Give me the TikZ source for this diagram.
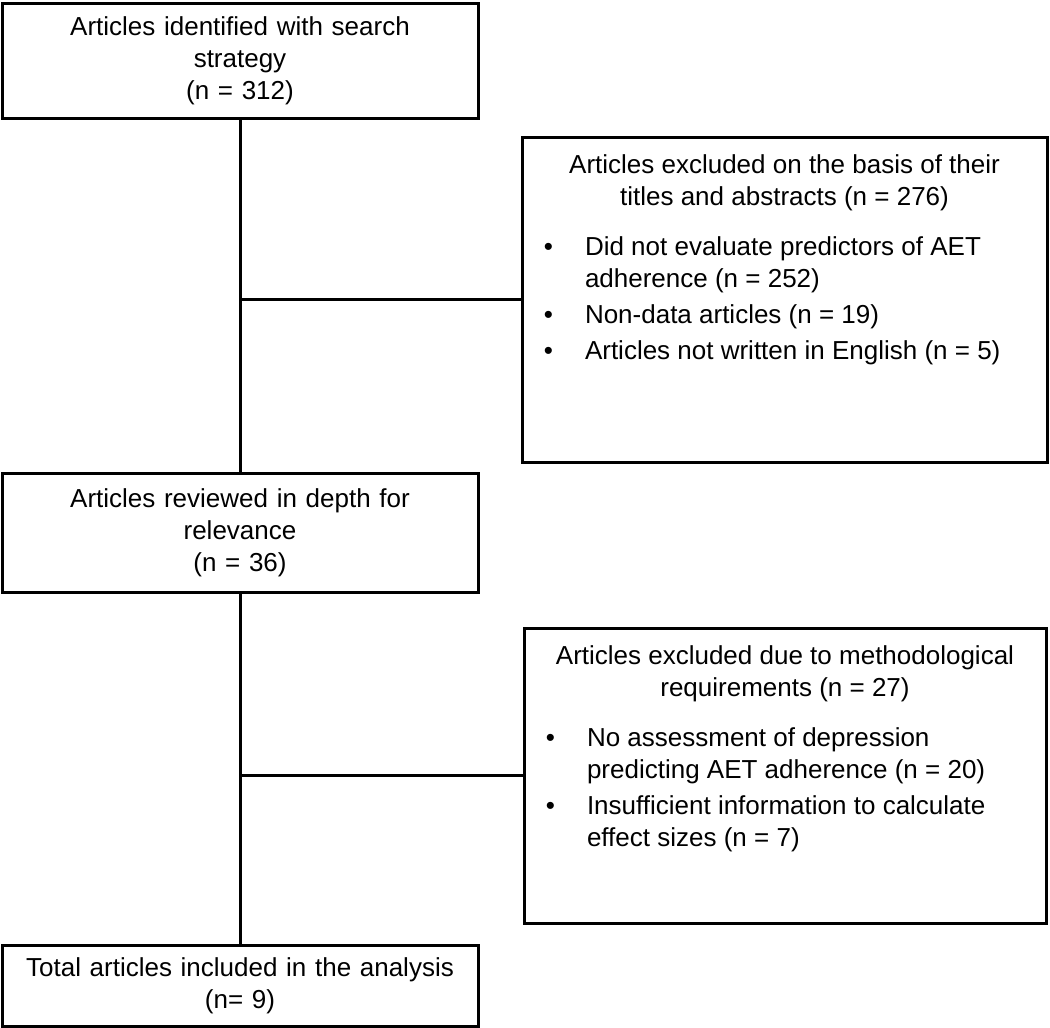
\documentclass[tikz,border=0pt]{standalone}
\usepackage{fontspec}
\setmainfont{Liberation Sans}
\usetikzlibrary{positioning, calc}

% bullet list used inside the exclusion boxes
\newenvironment{reasons}{\begin{list}{\textbullet}{%
    \setlength\leftmargin{31.5pt}\setlength\labelwidth{12pt}%
    \setlength\labelsep{16pt}\setlength\itemsep{2pt}\setlength\parsep{0pt}%
    \setlength\topsep{9pt}\setlength\partopsep{0pt}\setlength\rightmargin{6pt}}}%
  {\end{list}}

\begin{document}
\begin{tikzpicture}[x=0.5pt, y=-0.5pt,
    stage/.style={rectangle, draw=black, line width=1.5pt, inner sep=0pt,
                  text width=238pt, align=center, minimum height=#1,
                  font=\fontsize{13pt}{16pt}\selectfont},
    excl/.style={rectangle, draw=black, line width=1.5pt, inner sep=0pt,
                 font=\fontsize{13pt}{16pt}\selectfont},
    link/.style={draw=black, line width=1.5pt}
]
\useasboundingbox (0,0) rectangle (1050,1028);
% main flow on the left
\node[stage=57.5pt] (ident) at (240,60.5) {Articles identified with search\\strategy\\(n = 312)};
\node[stage=59.5pt] (review) at (240,532.5) {Articles reviewed in depth for\\relevance\\(n = 36)};
\node[stage=40.5pt] (incl) at (240,985.5) {Total articles included in the analysis\\(n= 9)};
% exclusion boxes on the right
\node[excl] (excl1) at (784.5,299.5) {\parbox[c][162.5pt][t]{262.5pt}{\vspace{9pt}%
    {\centering Articles excluded on the basis of their\\titles and abstracts (n = 276)\par}
    \begin{reasons}
    \item Did not evaluate predictors of AET\newline adherence (n = 252)
    \item Non-data articles (n = 19)
    \item Articles not written in English (n = 5)
    \end{reasons}}};
\node[excl] (excl2) at (785,775.5) {\parbox[c][147.5pt][t]{261pt}{\vspace{9pt}%
    {\centering Articles excluded due to methodological\\requirements (n = 27)\par}
    \begin{reasons}
    \item No assessment of depression\newline predicting AET adherence (n = 20)
    \item Insufficient information to calculate\newline effect sizes (n = 7)
    \end{reasons}}};
% connectors
\draw[link] (ident) -- (review);
\draw[link] (review) -- (incl);
\draw[link] (excl1.west) -- (excl1.west -| ident.south);
\draw[link] (excl2.west) -- (excl2.west -| review.south);
\end{tikzpicture}
\end{document}
